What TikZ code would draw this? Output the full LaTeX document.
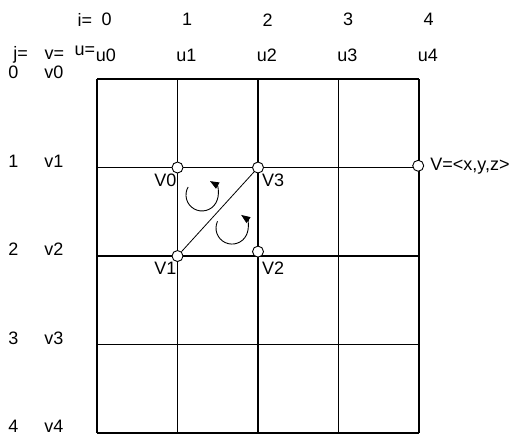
\documentclass[tikz,border=0pt]{standalone}
\usepackage{fontspec}
\setmainfont{Liberation Sans}
\usetikzlibrary{arrows.meta,positioning,calc}
\tikzset{
  gridline/.style={line width=1.5pt, black},
  vtx/.style={circle, draw, fill=white, line width=0.9pt, inner sep=0pt,
    minimum size=11pt},
  lab/.style={inner sep=0pt, font=\fontsize{18}{21}\selectfont},
  spin/.style={-{Triangle[length=9pt,width=7pt]}, line width=0.9pt},
}

\begin{document}
\begin{tikzpicture}[x=80.5pt, y=-88.5pt]
  \useasboundingbox (-1.205,-0.893) rectangle (5.155,4.023);

  % parameter mesh
  \foreach \k in {0,...,4} {
    \draw[gridline] (\k,0) -- (\k,4);
    \draw[gridline] (0,\k) -- (4,\k);
  }

  % index labels
  \node[lab] (ieq) at (-0.15,-0.67) {i=};
  \node[lab] (ueq) at (-0.15,-0.32) {u=};
  \node[lab] (jeq) at (-0.95,-0.27) {j=};
  \node[lab] (veq) at (-0.53,-0.28) {v=};
  \foreach \k in {0,...,4} {
    \node[lab] (i\k) at (\k+0.12,-0.67) {\k};
    \node[lab] (u\k) at (\k+0.11,-0.27) {u\k};
    \node[lab] (j\k) at (-1.04,\k-0.075) {\k};
    \node[lab] (v\k) at (-0.535,\k-0.075) {v\k};
  }

  % the two triangles of one cell
  \node[vtx] (V0) at (1,1) {};
  \node[vtx] (V3) at (2,1) {};
  \node[vtx] (V1) at (1,2) {};
  \node[vtx] (V2) at (2,1.95) {};
  \node[vtx] (Vg) at (3.99,0.98) {};
  \draw[line width=0.8pt] (V1) -- (V3);

  \node[lab, anchor=north east] (tV0) at ([xshift=-1pt,yshift=-6pt]V0.center) {V0};
  \node[lab, anchor=north west] (tV3) at ([xshift=4pt,yshift=-6pt]V3.center) {V3};
  \node[lab, anchor=north east] (tV1) at ([xshift=-1pt,yshift=-6pt]V1.center) {V1};
  \node[lab, anchor=north west] (tV2) at ([xshift=4pt,yshift=-10pt]V2.center) {V2};
  \node[lab, anchor=west] (tVg) at ([xshift=12pt]Vg.center) {V=<x,y,z>};

  % orientation
  \coordinate (c1) at (1.304,1.31);
  \coordinate (c2) at (1.677,1.684);
  \draw[spin] ([shift={(150:16pt)}]c1) arc[start angle=150, end angle=420, radius=16pt];
  \draw[spin] ([shift={(155:16pt)}]c2) arc[start angle=155, end angle=415, radius=16pt];
\end{tikzpicture}
\end{document}
